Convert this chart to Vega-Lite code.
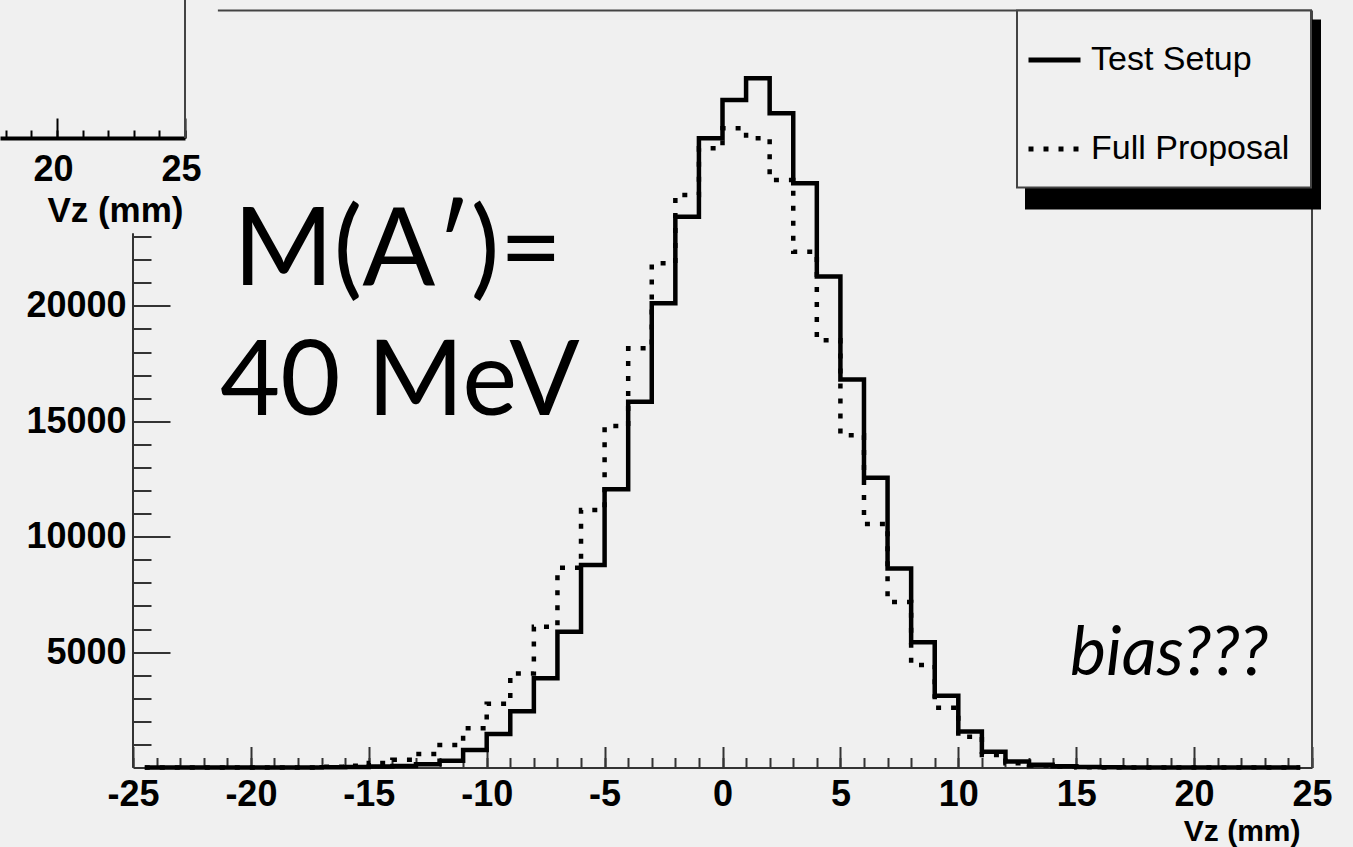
{
  "$schema": "https://vega.github.io/schema/vega-lite/v6.json",
  "width": 1179,
  "height": 757,
  "autosize": "none",
  "padding": {"left": 133, "top": 10.5, "right": 41, "bottom": 79.5},
  "background": "#f0f0f0",
  "config": {
    "view": {"stroke": null},
    "axis": {
      "grid": false,
      "domainColor": "#333",
      "domainWidth": 2,
      "tickColor": "#333",
      "tickWidth": 2,
      "labelFlush": false,
      "labelFont": "Liberation Sans",
      "labelFontWeight": "bold",
      "labelFontSize": 36,
      "labelColor": "#000",
      "titleFont": "Liberation Sans",
      "titleFontWeight": "bold",
      "titleFontSize": 30,
      "titleColor": "#000"
    },
    "legend": {
      "strokeWidth": 2,
      "labelFont": "Liberation Sans",
      "labelFontSize": 34,
      "labelLimit": 400,
      "direction": "vertical",
      "symbolType": "stroke",
      "symbolSize": 2704,
      "symbolStrokeWidth": 5,
      "padding": 21,
      "rowPadding": 43,
      "symbolOffset": -12,
      "labelOffset": 8
    }
  },
  "data": {
    "values": [
      {"series": "Test Setup", "vz": -24.5, "count": 0},
      {"series": "Test Setup", "vz": -23.5, "count": 0},
      {"series": "Test Setup", "vz": -22.5, "count": 0},
      {"series": "Test Setup", "vz": -21.5, "count": 0},
      {"series": "Test Setup", "vz": -20.5, "count": 0},
      {"series": "Test Setup", "vz": -19.5, "count": 0},
      {"series": "Test Setup", "vz": -18.5, "count": 0},
      {"series": "Test Setup", "vz": -17.5, "count": 0},
      {"series": "Test Setup", "vz": -16.5, "count": 10},
      {"series": "Test Setup", "vz": -15.5, "count": 20},
      {"series": "Test Setup", "vz": -14.5, "count": 40},
      {"series": "Test Setup", "vz": -13.5, "count": 70},
      {"series": "Test Setup", "vz": -12.5, "count": 140},
      {"series": "Test Setup", "vz": -11.5, "count": 290},
      {"series": "Test Setup", "vz": -10.5, "count": 760},
      {"series": "Test Setup", "vz": -9.5, "count": 1450},
      {"series": "Test Setup", "vz": -8.5, "count": 2440},
      {"series": "Test Setup", "vz": -7.5, "count": 3865},
      {"series": "Test Setup", "vz": -6.5, "count": 5884},
      {"series": "Test Setup", "vz": -5.5, "count": 8774},
      {"series": "Test Setup", "vz": -4.5, "count": 12054},
      {"series": "Test Setup", "vz": -3.5, "count": 15849},
      {"series": "Test Setup", "vz": -2.5, "count": 20113},
      {"series": "Test Setup", "vz": -1.5, "count": 23865},
      {"series": "Test Setup", "vz": -0.5, "count": 27262},
      {"series": "Test Setup", "vz": 0.5, "count": 28921},
      {"series": "Test Setup", "vz": 1.5, "count": 29861},
      {"series": "Test Setup", "vz": 2.5, "count": 28345},
      {"series": "Test Setup", "vz": 3.5, "count": 25312},
      {"series": "Test Setup", "vz": 4.5, "count": 21270},
      {"series": "Test Setup", "vz": 5.5, "count": 16807},
      {"series": "Test Setup", "vz": 6.5, "count": 12552},
      {"series": "Test Setup", "vz": 7.5, "count": 8622},
      {"series": "Test Setup", "vz": 8.5, "count": 5430},
      {"series": "Test Setup", "vz": 9.5, "count": 3110},
      {"series": "Test Setup", "vz": 10.5, "count": 1555},
      {"series": "Test Setup", "vz": 11.5, "count": 685},
      {"series": "Test Setup", "vz": 12.5, "count": 260},
      {"series": "Test Setup", "vz": 13.5, "count": 120},
      {"series": "Test Setup", "vz": 14.5, "count": 50},
      {"series": "Test Setup", "vz": 15.5, "count": 20},
      {"series": "Test Setup", "vz": 16.5, "count": 8},
      {"series": "Test Setup", "vz": 17.5, "count": 0},
      {"series": "Test Setup", "vz": 18.5, "count": 0},
      {"series": "Test Setup", "vz": 19.5, "count": 0},
      {"series": "Test Setup", "vz": 20.5, "count": 0},
      {"series": "Test Setup", "vz": 21.5, "count": 0},
      {"series": "Test Setup", "vz": 22.5, "count": 0},
      {"series": "Test Setup", "vz": 23.5, "count": 0},
      {"series": "Test Setup", "vz": 24.5, "count": 0},
      {"series": "Full Proposal", "vz": -24.5, "count": 0},
      {"series": "Full Proposal", "vz": -23.5, "count": 0},
      {"series": "Full Proposal", "vz": -22.5, "count": 0},
      {"series": "Full Proposal", "vz": -21.5, "count": 0},
      {"series": "Full Proposal", "vz": -20.5, "count": 0},
      {"series": "Full Proposal", "vz": -19.5, "count": 0},
      {"series": "Full Proposal", "vz": -18.5, "count": 0},
      {"series": "Full Proposal", "vz": -17.5, "count": 0},
      {"series": "Full Proposal", "vz": -16.5, "count": 30},
      {"series": "Full Proposal", "vz": -15.5, "count": 80},
      {"series": "Full Proposal", "vz": -14.5, "count": 200},
      {"series": "Full Proposal", "vz": -13.5, "count": 340},
      {"series": "Full Proposal", "vz": -12.5, "count": 585},
      {"series": "Full Proposal", "vz": -11.5, "count": 975},
      {"series": "Full Proposal", "vz": -10.5, "count": 1697},
      {"series": "Full Proposal", "vz": -9.5, "count": 2760},
      {"series": "Full Proposal", "vz": -8.5, "count": 4070},
      {"series": "Full Proposal", "vz": -7.5, "count": 6101},
      {"series": "Full Proposal", "vz": -6.5, "count": 8657},
      {"series": "Full Proposal", "vz": -5.5, "count": 11157},
      {"series": "Full Proposal", "vz": -4.5, "count": 14796},
      {"series": "Full Proposal", "vz": -3.5, "count": 18163},
      {"series": "Full Proposal", "vz": -2.5, "count": 21846},
      {"series": "Full Proposal", "vz": -1.5, "count": 24805},
      {"series": "Full Proposal", "vz": -0.5, "count": 26828},
      {"series": "Full Proposal", "vz": 0.5, "count": 27695},
      {"series": "Full Proposal", "vz": 1.5, "count": 27262},
      {"series": "Full Proposal", "vz": 2.5, "count": 25455},
      {"series": "Full Proposal", "vz": 3.5, "count": 22349},
      {"series": "Full Proposal", "vz": 4.5, "count": 18510},
      {"series": "Full Proposal", "vz": 5.5, "count": 14398},
      {"series": "Full Proposal", "vz": 6.5, "count": 10550},
      {"series": "Full Proposal", "vz": 7.5, "count": 7175},
      {"series": "Full Proposal", "vz": 8.5, "count": 4445},
      {"series": "Full Proposal", "vz": 9.5, "count": 2585},
      {"series": "Full Proposal", "vz": 10.5, "count": 1330},
      {"series": "Full Proposal", "vz": 11.5, "count": 542},
      {"series": "Full Proposal", "vz": 12.5, "count": 180},
      {"series": "Full Proposal", "vz": 13.5, "count": 90},
      {"series": "Full Proposal", "vz": 14.5, "count": 40},
      {"series": "Full Proposal", "vz": 15.5, "count": 15},
      {"series": "Full Proposal", "vz": 16.5, "count": 5},
      {"series": "Full Proposal", "vz": 17.5, "count": 0},
      {"series": "Full Proposal", "vz": 18.5, "count": 0},
      {"series": "Full Proposal", "vz": 19.5, "count": 0},
      {"series": "Full Proposal", "vz": 20.5, "count": 0},
      {"series": "Full Proposal", "vz": 21.5, "count": 0},
      {"series": "Full Proposal", "vz": 22.5, "count": 0},
      {"series": "Full Proposal", "vz": 23.5, "count": 0},
      {"series": "Full Proposal", "vz": 24.5, "count": 0}
    ]
  },
  "layer": [
    {
      "layer": [
        {
          "mark": {"type": "point", "opacity": 0},
          "encoding": {
            "x": {"field": "vz", "type": "quantitative", "scale": {"domain": [-25, 25], "nice": false, "zero": false}, "axis": null},
            "y": {"field": "count", "type": "quantitative", "scale": {"domain": [0, 32800], "nice": false, "zero": false}, "axis": null},
            "color": {"field": "count", "type": "quantitative",
              "scale": {"range": ["#000", "#000"]},
              "legend": {"title": null, "orient": "none", "legendX": 892, "legendY": 9, "direction": "vertical", "gradientLength": 190, "gradientThickness": 296, "gradientStrokeWidth": 0, "labelExpr": "''", "padding": 0, "fillColor": null, "strokeColor": null}}
          }
        },
        {
          "mark": {"type": "line", "interpolate": "step", "strokeWidth": 4.5, "strokeJoin": "miter", "strokeCap": "butt", "color": "#000"},
          "encoding": {
            "x": {"field": "vz", "type": "quantitative",
              "scale": {"domain": [-25, 25], "nice": false, "zero": false},
              "axis": {"orient": "bottom", "values": [-25,-24,-23,-22,-21,-20,-19,-18,-17,-16,-15,-14,-13,-12,-11,-10,-9,-8,-7,-6,-5,-4,-3,-2,-1,0,1,2,3,4,5,6,7,8,9,10,11,12,13,14,15,16,17,18,19,20,21,22,23,24,25], "tickSize": -10, "labels": false, "domain": true, "title": null}},
            "y": {"field": "count", "type": "quantitative",
              "scale": {"domain": [0, 32800], "nice": false, "zero": false},
              "axis": {"orient": "left", "values": [1000,2000,3000,4000,5000,6000,7000,8000,9000,10000,11000,12000,13000,14000,15000,16000,17000,18000,19000,20000,21000,22000,23000], "tickSize": -18, "labels": false, "domain": false, "title": null}},
            "strokeDash": {"field": "series", "type": "nominal", "sort": ["Test Setup", "Full Proposal"],
              "scale": {"range": [[1, 0], [5, 10]]},
              "legend": {"title": null, "orient": "none", "legendX": 884, "legendY": 0, "fillColor": "#f0f0f0", "strokeColor": "#444", "labelColor": "#000", "symbolStrokeColor": "#000"}}
          }
        },
        {
          "data": {"values": [{}]},
          "mark": {"type": "rule", "stroke": "#333", "strokeWidth": 2},
          "encoding": {
            "x": {"datum": -25, "type": "quantitative",
              "scale": {"domain": [-25, 25], "nice": false, "zero": false},
              "axis": {"orient": "bottom", "values": [-25,-20,-15,-10,-5,0,5,10,15,20,25], "tickSize": -21, "labels": false, "domain": false, "title": null}},
            "y": {"datum": 0, "type": "quantitative",
              "scale": {"domain": [0, 32800], "nice": false, "zero": false},
              "axis": {"orient": "left", "values": [5000, 10000, 15000, 20000], "tickSize": -37, "labels": false, "domain": false, "title": null}},
            "y2": {"datum": 23150}
          }
        },
        {
          "data": {"values": [{}]},
          "mark": {"type": "rule", "stroke": "#444", "strokeWidth": 2},
          "encoding": {
            "x": {"datum": 25, "type": "quantitative",
              "scale": {"domain": [-25, 25], "nice": false, "zero": false},
              "axis": {"orient": "bottom", "values": [-25,-20,-15,-10,-5,0,5,10,15,20,25], "ticks": false, "domain": false, "labelPadding": 9.5, "labelExpr": "'' + datum.value",
                "title": "Vz (mm)", "titleX": 1167, "titleY": 72.5, "titleAlign": "right", "titleBaseline": "alphabetic"}},
            "y": {"datum": 0, "type": "quantitative",
              "scale": {"domain": [0, 32800], "nice": false, "zero": false},
              "axis": {"orient": "left", "values": [5000, 10000, 15000, 20000], "ticks": false, "domain": false, "labelPadding": 7, "labelExpr": "'' + datum.value", "title": null}},
            "y2": {"datum": 32800}
          }
        },
        {
          "data": {"values": [{}]},
          "mark": {"type": "rule", "stroke": "#444", "strokeWidth": 2},
          "encoding": {
            "x": {"datum": -21.4, "type": "quantitative", "scale": {"domain": [-25, 25], "nice": false, "zero": false}, "axis": null},
            "x2": {"datum": 25},
            "y": {"datum": 32800, "type": "quantitative", "scale": {"domain": [0, 32800], "nice": false, "zero": false}, "axis": null}
          }
        },
        {
          "data": {"values": [{}]},
          "mark": {"type": "text", "text": "M(A′)=", "font": "Lato", "fontSize": 108, "align": "left", "baseline": "alphabetic", "color": "#000"},
          "encoding": {
            "x": {"datum": -20.75, "type": "quantitative", "scale": {"domain": [-25, 25], "nice": false, "zero": false}, "axis": null},
            "y": {"datum": 20906, "type": "quantitative", "scale": {"domain": [0, 32800], "nice": false, "zero": false}, "axis": null}
          }
        },
        {
          "data": {"values": [{}]},
          "mark": {"type": "text", "text": "40 MeV", "font": "Lato", "fontSize": 104, "align": "left", "baseline": "alphabetic", "color": "#000"},
          "encoding": {
            "x": {"datum": -21.31, "type": "quantitative", "scale": {"domain": [-25, 25], "nice": false, "zero": false}, "axis": null},
            "y": {"datum": 15273, "type": "quantitative", "scale": {"domain": [0, 32800], "nice": false, "zero": false}, "axis": null}
          }
        },
        {
          "data": {"values": [{}]},
          "mark": {"type": "text", "text": "bias???", "font": "Lato", "fontStyle": "italic", "fontSize": 68, "align": "left", "baseline": "alphabetic", "color": "#000"},
          "encoding": {
            "x": {"datum": 14.74, "type": "quantitative", "scale": {"domain": [-25, 25], "nice": false, "zero": false}, "axis": null},
            "y": {"datum": 4008, "type": "quantitative", "scale": {"domain": [0, 32800], "nice": false, "zero": false}, "axis": null}
          }
        }
      ],
      "resolve": {"axis": {"x": "independent", "y": "independent"}}
    },
    {
      "layer": [
        {
          "data": {"values": [{}]},
          "mark": {"type": "rule", "stroke": "#444", "strokeWidth": 2},
          "encoding": {
            "x": {"datum": 25, "type": "quantitative",
              "scale": {"domain": [17.77, 25], "range": [-133, 52], "nice": false, "zero": false},
              "axis": {"orient": "bottom", "offset": -629.5, "values": [18, 19, 20, 21, 22, 23, 24, 25], "tickSize": -8, "tickColor": "#000", "labels": false, "domain": true, "domainColor": "#000", "domainWidth": 4, "title": null}},
            "y": {"datum": 0, "type": "quantitative",
              "scale": {"domain": [0, 1], "range": [127.5, -10.5], "nice": false, "zero": false}, "axis": null},
            "y2": {"datum": 1}
          }
        },
        {
          "data": {"values": [{}]},
          "mark": {"type": "rule", "stroke": "#444", "strokeWidth": 2},
          "encoding": {
            "x": {"datum": 25, "type": "quantitative",
              "scale": {"domain": [17.77, 25], "range": [-133, 52], "nice": false, "zero": false},
              "axis": {"orient": "bottom", "offset": -629.5, "values": [20, 25], "tickSize": -20, "tickColor": "#000", "labels": false, "domain": false, "title": null}},
            "y": {"datum": 0, "type": "quantitative",
              "scale": {"domain": [0, 1], "range": [127.5, -10.5], "nice": false, "zero": false}, "axis": null},
            "y2": {"datum": 1}
          }
        },
        {
          "data": {"values": [{}]},
          "mark": {"type": "rule", "stroke": "#444", "strokeWidth": 2},
          "encoding": {
            "x": {"datum": 25, "type": "quantitative",
              "scale": {"domain": [17.77, 25], "range": [-133, 52], "nice": false, "zero": false},
              "axis": {"orient": "bottom", "offset": -629.5, "values": [20, 25], "ticks": false, "domain": false, "labelPadding": 14, "labelOffset": -4, "labelExpr": "'' + datum.value",
                "title": "Vz (mm)", "titleFontSize": 35, "titleX": 50, "titleY": 83, "titleAlign": "right", "titleBaseline": "alphabetic"}},
            "y": {"datum": 0, "type": "quantitative",
              "scale": {"domain": [0, 1], "range": [127.5, -10.5], "nice": false, "zero": false}, "axis": null},
            "y2": {"datum": 1}
          }
        }
      ],
      "resolve": {"axis": {"x": "independent"}}
    }
  ],
  "resolve": {"scale": {"x": "independent", "y": "independent"}, "axis": {"x": "independent", "y": "independent"}}
}
